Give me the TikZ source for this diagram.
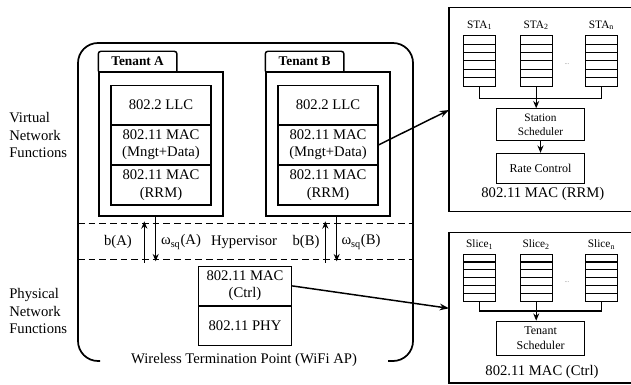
\documentclass[tikz,border=0pt]{standalone}
\usepackage{fontspec}
\setmainfont{Liberation Serif}
\usetikzlibrary{arrows.meta,positioning,calc}

\begin{document}
\begin{tikzpicture}[x=0.75pt,y=-0.75pt,>={Stealth[length=5.5pt,width=4.5pt]},
    font=\fontsize{11}{13}\selectfont,
    layer/.style={draw,line width=0.8pt,inner sep=0pt,minimum width=75pt,align=center},
    tenant/.style={draw,line width=1.1pt,minimum width=93pt,minimum height=108pt,inner sep=0pt},
    queue/.style={draw,line width=0.8pt,minimum width=24pt,minimum height=#1,inner sep=0pt,
      path picture={\foreach \k in {1,...,5}
        \draw[line width=0.8pt]
          ($(path picture bounding box.north west)!\k/6!(path picture bounding box.south west)$) --
          ($(path picture bounding box.north east)!\k/6!(path picture bounding box.south east)$);}},
    qlabel/.style={inner sep=0pt,font=\fontsize{8.5}{10}\selectfont},
    sched/.style={draw,line width=0.8pt,minimum width=65.5pt,inner sep=0pt,align=center},
    hvline/.style={line width=1.1pt,dash pattern=on 5pt off 3pt},
    hvarrow/.style={->,line width=0.9pt},
    link/.style={-{Stealth[length=7pt,width=5pt]},line width=1.1pt}]
  \useasboundingbox (0,0) rectangle (631,385);

  % left side labels
  \node[anchor=west,align=left,inner sep=0pt] (virt) at (9,135) {Virtual\\Network\\Functions};
  \node[anchor=west,align=left,inner sep=0pt] (phys) at (9,311) {Physical\\Network\\Functions};

  % wireless termination point
  \draw[line width=1.3pt,rounded corners=15pt] (100,361) -| (78,43) -| (413,361) -- (388,361);
  \node (wtp) at (244,360) {Wireless Termination Point (WiFi AP)};

  % tenant A
  \node[tenant] (tenA) at (161,144) {};
  \draw[line width=1.1pt,rounded corners=2pt] (tenA.north west) |- ++(59pt,15pt) -- ++(0,-15pt);
  \node[font=\bfseries] (tabA) at ([xshift=29.5pt,yshift=7.5pt]tenA.north west) {Tenant A};
  \node[layer,minimum height=29pt,anchor=north] (llcA) at (161,85) {802.2 LLC};
  \node[layer,minimum height=29.5pt,below=0pt of llcA] (macA) {802.11 MAC\\(Mngt+Data)};
  \node[layer,minimum height=29.5pt,below=0pt of macA] (rrmA) {802.11 MAC\\(RRM)};

  % tenant B
  \node[tenant] (tenB) at (328,144) {};
  \draw[line width=1.1pt,rounded corners=2pt] (tenB.north west) |- ++(59pt,15pt) -- ++(0,-15pt);
  \node[font=\bfseries] (tabB) at ([xshift=29.5pt,yshift=7.5pt]tenB.north west) {Tenant B};
  \node[layer,minimum height=29pt,anchor=north] (llcB) at (328,85) {802.2 LLC};
  \node[layer,minimum height=29.5pt,below=0pt of llcB] (macB) {802.11 MAC\\(Mngt+Data)};
  \node[layer,minimum height=29.5pt,below=0pt of macB] (rrmB) {802.11 MAC\\(RRM)};

  % hypervisor
  \coordinate (hvtop) at (78,223.3);
  \coordinate (hvbot) at (78,259.3);
  \draw[hvline] (hvtop) -- (413,223.3);
  \draw[hvline] (hvbot) -- (413,259.3);
  \node (bA) at (118,242) {b(A)};
  \node (wA) at (181,242) {ω\textsubscript{sq}(A)};
  \node (hv) at (244,242) {Hypervisor};
  \node (bB) at (306,242) {b(B)};
  \node (wB) at (361,242) {ω\textsubscript{sq}(B)};
  \coordinate (upA) at (144.3,262.5);
  \coordinate (dnA) at (155.7,216);
  \coordinate (upB) at (325.3,262.5);
  \coordinate (dnB) at (336.7,216);
  \draw[hvarrow] (upA) -- ([yshift=1.5pt]upA |- hvtop);
  \draw[hvarrow] (dnA) -- ([yshift=-1.5pt]dnA |- hvbot);
  \draw[hvarrow] (upB) -- ([yshift=1.5pt]upB |- hvtop);
  \draw[hvarrow] (dnB) -- ([yshift=-1.5pt]dnB |- hvbot);

  % physical functions
  \node[layer,minimum width=70pt,minimum height=29.5pt,anchor=north] (ctrl) at (245,265.7) {802.11 MAC\\(Ctrl)};
  \node[layer,minimum width=70pt,minimum height=29.3pt,below=0pt of ctrl] (phy) {802.11 PHY};

  % 802.11 MAC (RRM) detail
  \draw[line width=0.8pt] (631,7.3) -| (449,211.5) -- (631,211.5);
  \coordinate (rrmin) at (449,110);
  \node[queue=37.7pt] (qa1) at (479.7,60.9) {};
  \node[queue=37.7pt] (qa2) at (536.2,60.9) {};
  \node[queue=37.7pt] (qan) at (601.5,60.9) {};
  \node[qlabel,above=4pt of qa1] (la1) {STA\textsubscript{1}};
  \node[qlabel,above=4pt of qa2] (la2) {STA\textsubscript{2}};
  \node[qlabel,above=4pt of qan] (lan) {STA\textsubscript{n}};
  \node[font=\fontsize{5}{6}\selectfont,text=gray] (dotsa) at (567,64) {...};
  \node[sched,minimum height=23.8pt,anchor=north,font=\fontsize{8.5}{11}\selectfont] (ss) at (540.5,108.3) {Station\\Scheduler};
  \node[sched,minimum height=22.5pt,below=8.8pt of ss,font=\fontsize{9}{11}\selectfont] (rc) {Rate Control};
  \coordinate (busa) at (536.2,98.3);
  \draw[line width=0.8pt] (qa1.south) |- (busa) -| (qan.south);
  \draw[->,line width=0.8pt] (qa2.south) -- (qa2.south |- ss.north);
  \draw[->,line width=0.8pt] (ss) -- (rc);
  \node (rrmcap) at (542.8,194.3) {802.11 MAC (RRM)};

  % 802.11 MAC (Ctrl) detail
  \draw[line width=0.8pt] (631,232.3) -| (449,383) -- (631,383);
  \coordinate (ctrlin) at (449,308.3);
  \node[queue=35.8pt] (qb1) at (479.7,277.9) {};
  \node[queue=35.8pt] (qb2) at (536.2,277.9) {};
  \node[queue=35.8pt] (qbn) at (601.5,277.9) {};
  \node[qlabel,above=3pt of qb1] (lb1) {Slice\textsubscript{1}};
  \node[qlabel,above=3pt of qb2] (lb2) {Slice\textsubscript{2}};
  \node[qlabel,above=3pt of qbn] (lbn) {Slice\textsubscript{n}};
  \node[font=\fontsize{5}{6}\selectfont,text=gray] (dotsb) at (567,281.7) {...};
  \node[sched,minimum height=25.7pt,anchor=north,font=\fontsize{9}{11}\selectfont] (ts) at (540.6,320.7) {Tenant\\Scheduler};
  \coordinate (busb) at (536.2,311);
  \draw[line width=0.8pt] (qb1.south) |- (busb) -| (qbn.south);
  \draw[->,line width=0.8pt] (qb2.south) -- (qb2.south |- ts.north);
  \node (ctrlcap) at (542,371.7) {802.11 MAC (Ctrl)};

  % links to the detail views
  \draw[link] (macB.east) -- (rrmin);
  \draw[link] (ctrl.east) -- (ctrlin);
\end{tikzpicture}
\end{document}
